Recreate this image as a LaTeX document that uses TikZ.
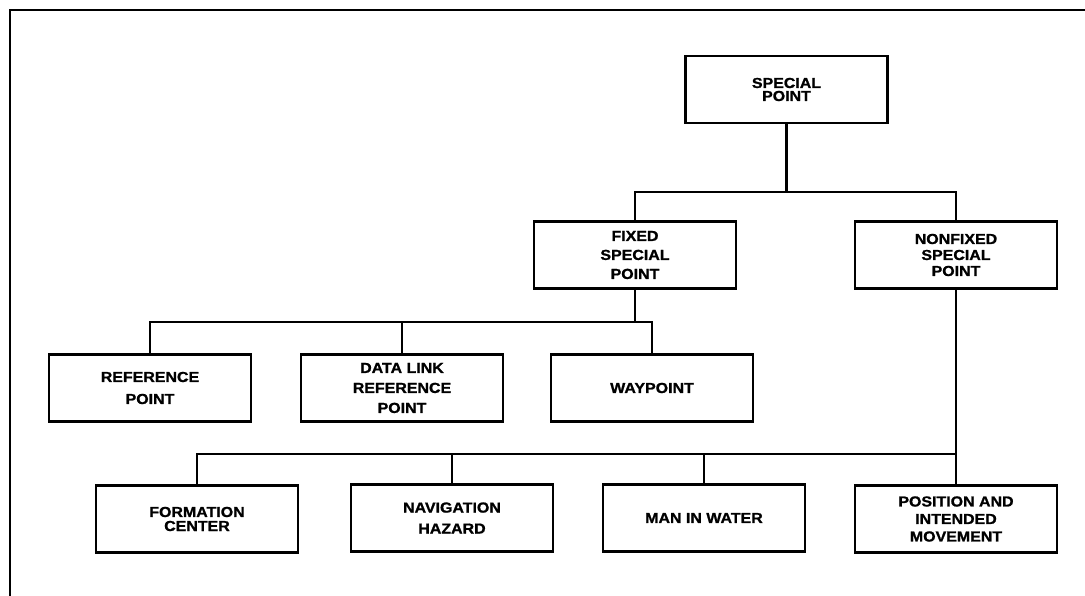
\documentclass[tikz,border=0pt]{standalone}
\usepackage{fontspec}
\setmainfont{Liberation Sans}[FakeStretch=1.1,FakeBold=1.2]
\begin{document}
\begin{tikzpicture}[x=1pt,y=-1pt,
  cbox/.style={draw=black, line width=2.2pt, minimum width=202pt, minimum height=67pt,
    inner sep=0pt, align=center, font=\fontsize{14.5}{#1}\selectfont\bfseries},
  cbox/.default=16,
  link/.style={line width=2.2pt, line join=miter},
  frame/.style={line width=2.8pt, line cap=rect}]
\useasboundingbox (0,0) rectangle (1085,595);
% frame
\draw[frame] (10,595) -- (10,10) -- (1085,10);
% nodes
\node[cbox=13] (sp) at (786.5,89.5) {SPECIAL\\POINT};
\node[cbox=19] (fsp) at (635,255) {FIXED\\SPECIAL\\POINT};
\node[cbox=16] (nsp) at (956,255) {NONFIXED\\SPECIAL\\POINT};
\node[cbox=22] (ref) at (150,388) {REFERENCE\\POINT};
\node[cbox=20] (dl) at (402,388) {DATA LINK\\REFERENCE\\POINT};
\node[cbox] (wp) at (652,388) {WAYPOINT};
\node[cbox=14] (fc) at (197,519) {FORMATION\\CENTER};
\node[cbox=21] (nh) at (452,518) {NAVIGATION\\HAZARD};
\node[cbox] (mw) at (704,518) {MAN IN WATER};
\node[cbox=17.5] (pm) at (956,519) {POSITION AND\\INTENDED\\MOVEMENT};
% bus coordinates
\coordinate (b0) at (786.5,192);
\coordinate (b1) at (635,322);
\coordinate (b2) at (956,454);
% connectors
\draw[link] (sp.south) -- (b0);
\draw[link] (fsp.north) |- (b0) -| (nsp.north);
\draw[link] (fsp.south) -- (b1);
\draw[link] (ref.north) |- (b1) -| (wp.north);
\draw[link] (dl.north) -- (dl.north |- b1);
\draw[link] (nsp.south) -- (pm.north);
\draw[link] (fc.north) |- (b2);
\draw[link] (nh.north) -- (nh.north |- b2);
\draw[link] (mw.north) -- (mw.north |- b2);
\end{tikzpicture}
\end{document}
